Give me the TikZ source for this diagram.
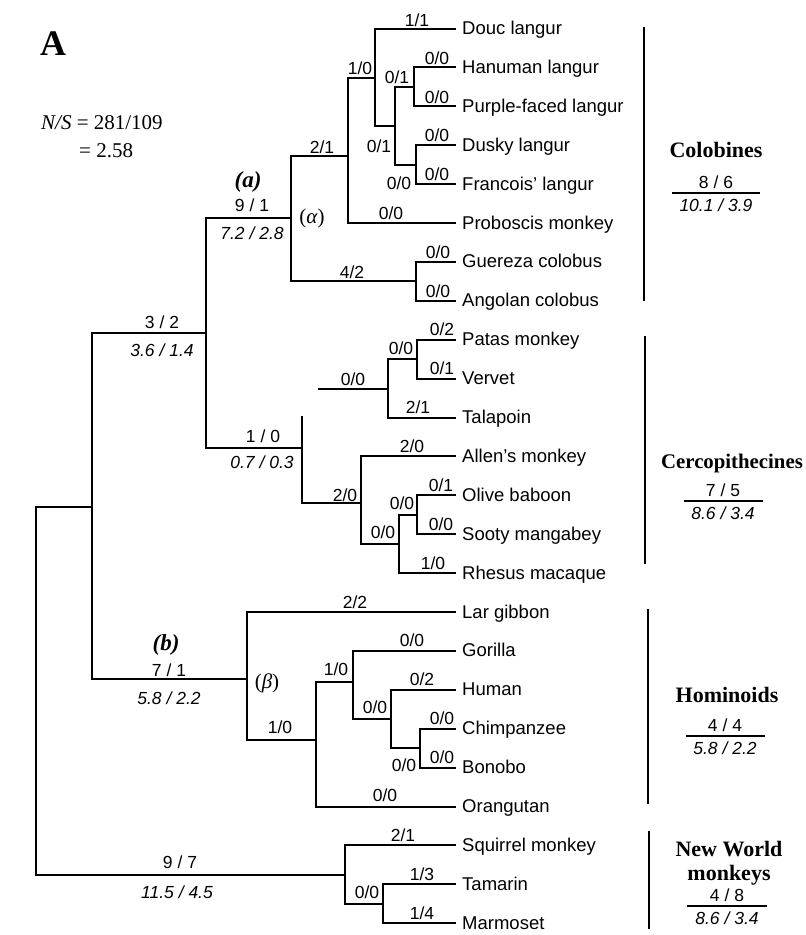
\documentclass[tikz,border=0pt]{standalone}
\usepackage{fontspec}
\setmainfont{Liberation Serif}
\setsansfont{Liberation Sans}
\begin{document}
\begin{tikzpicture}[x=1pt,y=-1pt,
  br/.style={line width=2pt, line cap=rect},
  rulel/.style={line width=1.7pt},
  lf/.style={font=\sffamily\fontsize{18.5}{20}\selectfont, anchor=base west, inner sep=0pt},
  bl/.style={font=\sffamily\fontsize{17.5}{19}\selectfont, inner sep=0pt},
  il/.style={font=\sffamily\itshape\fontsize{17.5}{19}\selectfont, inner sep=0pt},
  grp/.style={font=\bfseries\fontsize{22}{23}\selectfont, inner sep=0pt},
  gl/.style={font=\fontsize{21}{23}\selectfont, inner sep=0pt},
  tag/.style={font=\bfseries\itshape\fontsize{23}{24}\selectfont, inner sep=0pt}]
\useasboundingbox (0,0) rectangle (806,935);

% leaves
\foreach \i/\nm in {0/Douc langur,1/Hanuman langur,2/Purple-faced langur,3/Dusky langur,
  4/Francois' langur,5/Proboscis monkey,6/Guereza colobus,7/Angolan colobus,
  8/Patas monkey,9/Vervet,10/Talapoin,11/Allen's monkey,12/Olive baboon,
  13/Sooty mangabey,14/Rhesus macaque,15/Lar gibbon,16/Gorilla,17/Human,
  18/Chimpanzee,19/Bonobo,20/Orangutan,21/Squirrel monkey,22/Tamarin,23/Marmoset}{
  \coordinate (L\i) at (455,28.5+38.9*\i);
  \node[lf] (T\i) at (462,34.5+38.9*\i) {\nm};
}

% internal nodes
\coordinate (HP) at (414,86.9);
\coordinate (DF) at (416,164.7);
\coordinate (HPDF) at (395,125.8);
\coordinate (LANG) at (375,78);
\coordinate (LP) at (348,156);
\coordinate (GA) at (416,281.4);
\coordinate (COL) at (291,218);
\coordinate (PV) at (417,359.2);
\coordinate (GUEN) at (388,389);
\coordinate (GUENs) at (319,389);
\coordinate (OLSO) at (417,514.8);
\coordinate (OSR) at (399,544);
\coordinate (PAP) at (361,503);
\coordinate (CERC) at (302,448);
\coordinate (CERCt) at (302,417);
\coordinate (OW) at (206,333);
\coordinate (CB) at (420,748.2);
\coordinate (HCB) at (391,719);
\coordinate (GHCB) at (353,682);
\coordinate (GREAT) at (316,740);
\coordinate (HOM) at (247,679);
\coordinate (CAT) at (92,507);
\coordinate (TM) at (383,903.8);
\coordinate (NWM) at (345,875);
\coordinate (ROOT) at (36,692);

% branches
\draw[br] (HP) |- (L1);  \draw[br] (HP) |- (L2);
\draw[br] (DF) |- (L3);  \draw[br] (DF) |- (L4);
\draw[br] (HPDF) |- (HP); \draw[br] (HPDF) |- (DF);
\draw[br] (LANG) |- (L0); \draw[br] (LANG) |- (HPDF);
\draw[br] (LP) |- (LANG); \draw[br] (LP) |- (L5);
\draw[br] (GA) |- (L6);  \draw[br] (GA) |- (L7);
\draw[br] (COL) |- (LP); \draw[br] (COL) |- (GA);
\draw[br] (PV) |- (L8);  \draw[br] (PV) |- (L9);
\draw[br] (GUEN) |- (PV); \draw[br] (GUEN) |- (L10);
\draw[br] (GUENs) -- (GUEN);
\draw[br] (OLSO) |- (L12); \draw[br] (OLSO) |- (L13);
\draw[br] (OSR) |- (OLSO); \draw[br] (OSR) |- (L14);
\draw[br] (PAP) |- (L11); \draw[br] (PAP) |- (OSR);
\draw[br] (CERCt) -- (CERC); \draw[br] (CERC) |- (PAP);
\draw[br] (OW) |- (COL); \draw[br] (OW) |- (CERC);
\draw[br] (CB) |- (L18); \draw[br] (CB) |- (L19);
\draw[br] (HCB) |- (L17); \draw[br] (HCB) |- (CB);
\draw[br] (GHCB) |- (L16); \draw[br] (GHCB) |- (HCB);
\draw[br] (GREAT) |- (GHCB); \draw[br] (GREAT) |- (L20);
\draw[br] (HOM) |- (L15); \draw[br] (HOM) |- (GREAT);
\draw[br] (CAT) |- (OW); \draw[br] (CAT) |- (HOM);
\draw[br] (TM) |- (L22); \draw[br] (TM) |- (L23);
\draw[br] (NWM) |- (L21); \draw[br] (NWM) |- (TM);
\draw[br] (ROOT) |- (CAT); \draw[br] (ROOT) |- (NWM);

% branch labels: colobines
\node[bl] (c1) at (417,20) {1/1};
\node[bl] (c2) at (360,68) {1/0};
\node[bl] (c3) at (397,77) {0/1};
\node[bl] (c4) at (437,58) {0/0};
\node[bl] (c5) at (437,97) {0/0};
\node[bl] (c6) at (379,146) {0/1};
\node[bl] (c7) at (437,135) {0/0};
\node[bl] (c8) at (437,174) {0/0};
\node[bl] (c9) at (399,183) {0/0};
\node[bl] (c10) at (322,147) {2/1};
\node[gl] (c11) at (312,218) {(\textit{α})};
\node[bl] (c12) at (391,213) {0/0};
\node[bl] (c13) at (438,252) {0/0};
\node[bl] (c14) at (352,272) {4/2};
\node[bl] (c15) at (438,291) {0/0};
\node[tag] (c16) at (248,182) {(a)};
\node[bl] (c17) at (252,205) {9 / 1};
\node[il] (c18) at (252,233) {7.2 / 2.8};
\node[bl] (c19) at (162,322) {3 / 2};
\node[il] (c20) at (162,350) {3.6 / 1.4};

% cercopithecines
\node[bl] (k1) at (442,329) {0/2};
\node[bl] (k2) at (401,348) {0/0};
\node[bl] (k3) at (442,368) {0/1};
\node[bl] (k4) at (353,379) {0/0};
\node[bl] (k5) at (418,407) {2/1};
\node[bl] (k6) at (263,436) {1 / 0};
\node[il] (k7) at (262,462) {0.7 / 0.3};
\node[bl] (k8) at (412,446) {2/0};
\node[bl] (k9) at (345,495) {2/0};
\node[bl] (k10) at (441,485) {0/1};
\node[bl] (k11) at (402,503) {0/0};
\node[bl] (k12) at (441,524) {0/0};
\node[bl] (k13) at (383,532) {0/0};
\node[bl] (k14) at (433,563) {1/0};

% hominoids
\node[tag] (h1) at (166,645) {(b)};
\node[bl] (h2) at (169,670) {7 / 1};
\node[il] (h3) at (169,698) {5.8 / 2.2};
\node[bl] (h4) at (355,602) {2/2};
\node[gl] (h5) at (267,683) {(\textit{β})};
\node[bl] (h6) at (280,727) {1/0};
\node[bl] (h7) at (412,640) {0/0};
\node[bl] (h8) at (336,669) {1/0};
\node[bl] (h9) at (422,679) {0/2};
\node[bl] (h10) at (375,707) {0/0};
\node[bl] (h11) at (442,718) {0/0};
\node[bl] (h12) at (442,757) {0/0};
\node[bl] (h13) at (404,765) {0/0};
\node[bl] (h14) at (385,795) {0/0};

% new world monkeys
\node[bl] (w1) at (180,862) {9 / 7};
\node[il] (w2) at (177,892) {11.5 / 4.5};
\node[bl] (w3) at (403,835) {2/1};
\node[bl] (w4) at (422,874) {1/3};
\node[bl] (w5) at (422,913) {1/4};
\node[bl] (w6) at (367,892) {0/0};

% title and ratio
\node[font=\bfseries\fontsize{36}{37}\selectfont, anchor=base west, inner sep=0pt] (ttl) at (40,55) {A};
\node[gl, anchor=base west] (ns1) at (41,129) {\textit{N/S} = 281/109};
\node[gl, anchor=base west] (ns2) at (79,157) {= 2.58};

% group bars
\coordinate (g1a) at (644,28); \coordinate (g1b) at (644,300);
\coordinate (g2a) at (645,337); \coordinate (g2b) at (645,563);
\coordinate (g3a) at (648,610); \coordinate (g3b) at (648,803);
\coordinate (g4a) at (649,832); \coordinate (g4b) at (649,928);
\draw[br] (g1a) -- (g1b);
\draw[br] (g2a) -- (g2b);
\draw[br] (g3a) -- (g3b);
\draw[br] (g4a) -- (g4b);

% group labels
\node[grp] (G1) at (716,150) {Colobines};
\node[bl] (G1n) at (716,182) {8 / 6};
\coordinate (r1a) at (672,193); \coordinate (r1b) at (760,193);
\draw[rulel] (r1a) -- (r1b);
\node[il] (G1d) at (716,205) {10.1 / 3.9};

\node[grp, font=\bfseries\fontsize{20.8}{22}\selectfont] (G2) at (732,463) {Cercopithecines};
\node[bl] (G2n) at (723,490) {7 / 5};
\coordinate (r2a) at (684,501); \coordinate (r2b) at (763,501);
\draw[rulel] (r2a) -- (r2b);
\node[il] (G2d) at (723,513) {8.6 / 3.4};

\node[grp] (G3) at (727,695) {Hominoids};
\node[bl] (G3n) at (725,725) {4 / 4};
\coordinate (r3a) at (686,736); \coordinate (r3b) at (765,736);
\draw[rulel] (r3a) -- (r3b);
\node[il] (G3d) at (725,748) {5.8 / 2.2};

\node[grp] (G4) at (729,849) {New World};
\node[grp] (G4b) at (729,875) {monkeys};
\node[bl] (G4n) at (727,895) {4 / 8};
\coordinate (r4a) at (687,906); \coordinate (r4b) at (767,906);
\draw[rulel] (r4a) -- (r4b);
\node[il] (G4d) at (727,918) {8.6 / 3.4};
\end{tikzpicture}
\end{document}
